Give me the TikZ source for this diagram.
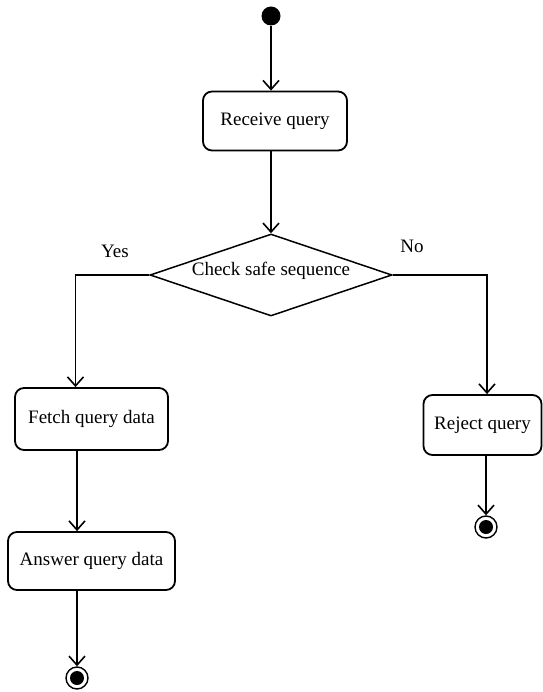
\documentclass[tikz,border=0pt]{standalone}
\usepackage{fontspec}
\setmainfont{Liberation Serif}
\usetikzlibrary{shapes.geometric,arrows.meta,calc}
\begin{document}
\begin{tikzpicture}[x=1pt,y=-1pt,
  every node/.style={font=\fontsize{19}{22}\selectfont},
  action/.style={draw,line width=1.8pt,rounded corners=9pt,inner sep=0pt},
  decision/.style={draw,diamond,line width=1.5pt,inner sep=0pt,minimum width=242pt,minimum height=82pt},
  flow/.style={line width=1.6pt,-{Straight Barb[length=9pt,width=16pt]}},
  startnode/.style={circle,fill=black,inner sep=0pt,minimum size=19pt},
  endring/.style={circle,draw,line width=1.4pt,inner sep=0pt,minimum size=22pt},
  endcore/.style={circle,fill=black,inner sep=0pt,minimum size=14pt}]
\useasboundingbox (0,0) rectangle (542,692);

% nodes
\node[startnode] (start) at (271,16) {};
\node[action,minimum width=144pt,minimum height=59pt] (recv) at (275,121) {Receive query};
\node[decision] (dec) at (271,275) {};
\node at (271,271) {Check safe sequence};
\node (yes) at (115,251) {Yes};
\node (no) at (412,246) {No};
\node[action,minimum width=153pt,minimum height=62pt] (fetch) at (91.5,419) {Fetch query data};
\node[action,minimum width=118pt,minimum height=60pt] (reject) at (482.5,425) {Reject query};
\node[action,minimum width=167pt,minimum height=58pt] (answer) at (91.5,561) {Answer query data};

% final states
\node[endring] (endA) at (77,678) {};
\node[endcore] at (endA) {};
\node[endring] (endB) at (486,527) {};
\node[endcore] at (endB) {};

% control flow
\draw[flow] (start) -- (start |- recv.north);
\draw[flow] (dec.north |- recv.south) -- (dec.north);
\draw[flow] (dec.west) -| ($(fetch.north)+(-16,0)$);
\draw[flow] (dec.east) -| ($(reject.north)+(4.5,0)$);
\draw[flow] ($(fetch.south)+(-14.5,0)$) -- ($(answer.north)+(-14.5,0)$);
\draw[flow] (answer.south -| endA) -- (endA.north);
\draw[flow] (reject.south -| endB) -- (endB.north);
\end{tikzpicture}
\end{document}
